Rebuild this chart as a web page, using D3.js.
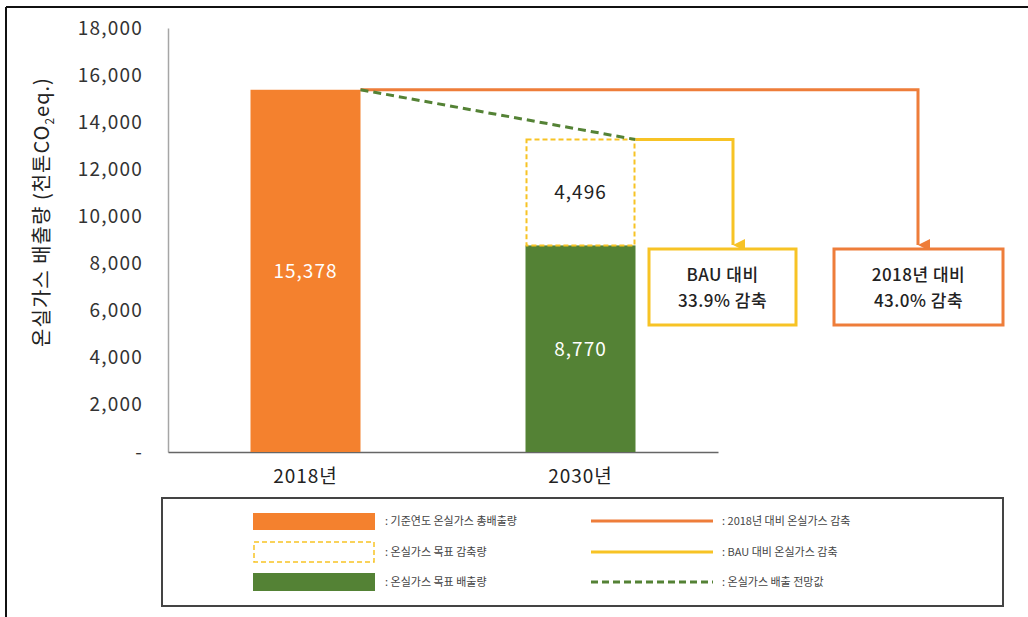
<!DOCTYPE html>
<html>
<head>
<meta charset="utf-8">
<script src="https://cdn.jsdelivr.net/npm/d3@7"></script>
<style>
  body { margin: 0; background: #fff; }
  text { font-family: 'Noto Sans CJK KR', 'Noto Sans', sans-serif; }
</style>
</head>
<body>
<div id="chart"></div>
<script>
// data
const categories = ['2018년', '2030년']
const totalEmission = [15378, null]      // 기준연도 온실가스 총배출량
const targetEmission = [null, 8770]      // 온실가스 목표 배출량
const targetReduction = [null, 4496]     // 온실가스 목표 감축량
const yTicks = [0, 2000, 4000, 6000, 8000, 10000, 12000, 14000, 16000, 18000]
const boxLabels = [['BAU 대비', '33.9% 감축'], ['2018년 대비', '43.0% 감축']]
const legendLeft = [': 기준연도 온실가스 총배출량', ': 온실가스 목표 감축량', ': 온실가스 목표 배출량']
const legendRight = [': 2018년 대비 온실가스 감축', ': BAU 대비 온실가스 감축', ': 온실가스 배출 전망값']

const W = 1028
const H = 617
const orange = '#F4812E'
const orangeLine = '#EE7D3A'
const green = '#548235'
const yellow = '#F7C325'

const svg = d3
  .select('#chart')
  .append('svg')
  .attr('width', W)
  .attr('height', H)

// outer frame (top + left)
svg.append('line').attr('x1', 6).attr('x2', W).attr('y1', 7).attr('y2', 7)
  .attr('stroke', '#111').attr('stroke-width', 2)
svg.append('line').attr('x1', 6).attr('x2', 6).attr('y1', 7).attr('y2', H)
  .attr('stroke', '#111').attr('stroke-width', 2)

const xPositionScale = d3
  .scaleBand()
  .domain(categories)
  .range([168, 718])
  .paddingInner(0.6)
  .paddingOuter(0.3)

const yPositionScale = d3
  .scaleLinear()
  .domain([0, 18000])
  .range([452, 28])

// y axis
const yAxis = d3
  .axisLeft(yPositionScale)
  .tickValues(yTicks)
  .tickSize(0)
  .tickPadding(25)
  .tickFormat(d => (d === 0 ? '-' : d3.format(',')(d)))
const yg = svg
  .append('g')
  .attr('class', 'axis y-axis')
  .attr('transform', 'translate(168,0)')
  .call(yAxis)
yg.select('.domain').attr('stroke', '#A6A6A6').attr('stroke-width', 1.5)
yg.selectAll('text').attr('font-size', 19).attr('fill', '#333')
  .attr('letter-spacing', 1.2)
  .style('font-family', "'Noto Sans CJK KR', sans-serif")

// x axis
const xAxis = d3.axisBottom(xPositionScale).tickSize(0).tickPadding(18)
const xg = svg
  .append('g')
  .attr('class', 'axis x-axis')
  .attr('transform', 'translate(0,' + yPositionScale(0) + ')')
  .call(xAxis)
xg.select('.domain').attr('stroke', '#666').attr('stroke-width', 1.5)
xg.selectAll('text').attr('font-size', 19).attr('fill', '#222')
  .attr('letter-spacing', 1)
  .style('font-family', "'Noto Sans CJK KR', sans-serif")

// y title
svg
  .append('text')
  .attr('transform', 'translate(49,212) rotate(-90)')
  .attr('text-anchor', 'middle')
  .attr('font-size', 20)
  .attr('letter-spacing', 1)
  .attr('fill', '#222')
  .text('온실가스 배출량 (천톤CO')
  .append('tspan').attr('font-size', 12).attr('dy', 5).text('2')
  .select(function() { return this.parentNode })
  .append('tspan').attr('dy', -5).text('eq.)')

const bw = xPositionScale.bandwidth()

// 2018 total bar
svg
  .selectAll('.bar-total')
  .data(categories.filter((c, i) => totalEmission[i] != null))
  .enter()
  .append('rect')
  .attr('x', d => xPositionScale(d))
  .attr('y', d => yPositionScale(totalEmission[categories.indexOf(d)]))
  .attr('width', bw)
  .attr('height', d => yPositionScale(0) - yPositionScale(totalEmission[categories.indexOf(d)]))
  .attr('fill', orange)

// 2030 target bar
svg
  .selectAll('.bar-target')
  .data(categories.filter((c, i) => targetEmission[i] != null))
  .enter()
  .append('rect')
  .attr('x', d => xPositionScale(d))
  .attr('y', d => yPositionScale(targetEmission[categories.indexOf(d)]))
  .attr('width', bw)
  .attr('height', d => yPositionScale(0) - yPositionScale(targetEmission[categories.indexOf(d)]))
  .attr('fill', green)

// 2030 reduction (dashed box)
svg
  .selectAll('.bar-reduction')
  .data(categories.filter((c, i) => targetReduction[i] != null))
  .enter()
  .append('rect')
  .attr('x', d => xPositionScale(d) + 1)
  .attr('y', d => {
    const i = categories.indexOf(d)
    return yPositionScale(targetEmission[i] + targetReduction[i])
  })
  .attr('width', bw - 2)
  .attr('height', d => {
    const i = categories.indexOf(d)
    return yPositionScale(targetEmission[i]) - yPositionScale(targetEmission[i] + targetReduction[i])
  })
  .attr('fill', 'none')
  .attr('stroke', yellow)
  .attr('stroke-width', 2)
  .attr('stroke-dasharray', '5,3')

// value labels
const fmt = d3.format(',')
const x0 = xPositionScale(categories[0]) + bw / 2
const x1 = xPositionScale(categories[1]) + bw / 2
const bau = targetEmission[1] + targetReduction[1]
function valueLabel(x, v, y, color) {
  svg.append('text').attr('x', x).attr('y', y + 7)
    .attr('text-anchor', 'middle').attr('font-size', 19)
    .attr('letter-spacing', 1).attr('fill', color)
    .text(fmt(v))
}
valueLabel(x0, totalEmission[0], yPositionScale(totalEmission[0] / 2), '#fff')
valueLabel(x1, targetEmission[1], yPositionScale(targetEmission[1] / 2), '#fff')
valueLabel(x1, targetReduction[1], yPositionScale(targetEmission[1] + targetReduction[1] / 2), '#222')

// arrow markers
const defs = svg.append('defs')
function marker(id, color) {
  defs.append('marker')
    .attr('id', id)
    .attr('viewBox', '0 0 10 10')
    .attr('refX', 5).attr('refY', 10)
    .attr('markerWidth', 4).attr('markerHeight', 4)
    .attr('orient', 'auto-start-reverse')
    .append('path')
    .attr('d', 'M0,0 L10,0 L5,10 Z')
    .attr('fill', color)
}
marker('arr-o', orangeLine)
marker('arr-y', yellow)

const boxTop = 249
const boxBottom = 325

// orange line 2018 -> box
const xRight0 = xPositionScale(categories[0]) + bw
svg.append('path')
  .attr('d', d3.line()([[xRight0, yPositionScale(totalEmission[0])], [918, yPositionScale(totalEmission[0])], [918, boxTop - 4]]))
  .attr('fill', 'none').attr('stroke', orangeLine).attr('stroke-width', 3)
  .attr('marker-end', 'url(#arr-o)')

// green dashed projection
const xRight1 = xPositionScale(categories[1]) + bw
svg.append('line')
  .attr('x1', xRight0).attr('y1', yPositionScale(totalEmission[0]))
  .attr('x2', xRight1).attr('y2', yPositionScale(bau))
  .attr('stroke', green).attr('stroke-width', 3).attr('stroke-dasharray', '8,5')

// yellow line BAU -> box
svg.append('path')
  .attr('d', d3.line()([[xRight1, yPositionScale(bau)], [733, yPositionScale(bau)], [733, boxTop - 4]]))
  .attr('fill', 'none').attr('stroke', yellow).attr('stroke-width', 3)
  .attr('marker-end', 'url(#arr-y)')

// annotation boxes
const boxes = [
  { x: 649, w: 147, color: yellow, lines: boxLabels[0] },
  { x: 834, w: 169, color: orangeLine, lines: boxLabels[1] }
]
boxes.forEach(b => {
  svg.append('rect')
    .attr('x', b.x).attr('y', boxTop)
    .attr('width', b.w).attr('height', boxBottom - boxTop)
    .attr('fill', '#fff').attr('stroke', b.color).attr('stroke-width', 3)
  b.lines.forEach((t, i) => {
    svg.append('text')
      .attr('x', b.x + b.w / 2)
      .attr('y', boxTop + 32 + i * 26)
      .attr('text-anchor', 'middle')
      .attr('font-size', 17)
      .attr('font-weight', 500)
      .attr('letter-spacing', 0.5)
      .attr('fill', '#222')
      .text(t)
  })
})

// legend
svg.append('rect')
  .attr('x', 162).attr('y', 498)
  .attr('width', 841).attr('height', 108)
  .attr('fill', '#fff').attr('stroke', '#444').attr('stroke-width', 2)

const legY = [521, 552, 582]
// left column swatches
svg.append('rect').attr('x', 253).attr('y', legY[0] - 8).attr('width', 122).attr('height', 17).attr('fill', orange)
svg.append('rect').attr('x', 254).attr('y', legY[1] - 10).attr('width', 120).attr('height', 20)
  .attr('fill', 'none').attr('stroke', yellow).attr('stroke-width', 1.5).attr('stroke-dasharray', '5,3')
svg.append('rect').attr('x', 253).attr('y', legY[2] - 9).attr('width', 122).attr('height', 18).attr('fill', green)

legendLeft.forEach((t, i) => {
  svg.append('text').attr('x', 385).attr('y', legY[i] + 4)
    .attr('font-size', 11).attr('fill', '#444').text(t)
})

// right column lines
svg.append('line').attr('x1', 591).attr('x2', 713).attr('y1', legY[0]).attr('y2', legY[0])
  .attr('stroke', orangeLine).attr('stroke-width', 3)
svg.append('line').attr('x1', 591).attr('x2', 713).attr('y1', legY[1]).attr('y2', legY[1])
  .attr('stroke', yellow).attr('stroke-width', 3)
svg.append('line').attr('x1', 591).attr('x2', 713).attr('y1', legY[2]).attr('y2', legY[2])
  .attr('stroke', green).attr('stroke-width', 3).attr('stroke-dasharray', '7,4')

legendRight.forEach((t, i) => {
  svg.append('text').attr('x', 722).attr('y', legY[i] + 4)
    .attr('font-size', 11).attr('fill', '#444').text(t)
})
</script>
</body>
</html>
